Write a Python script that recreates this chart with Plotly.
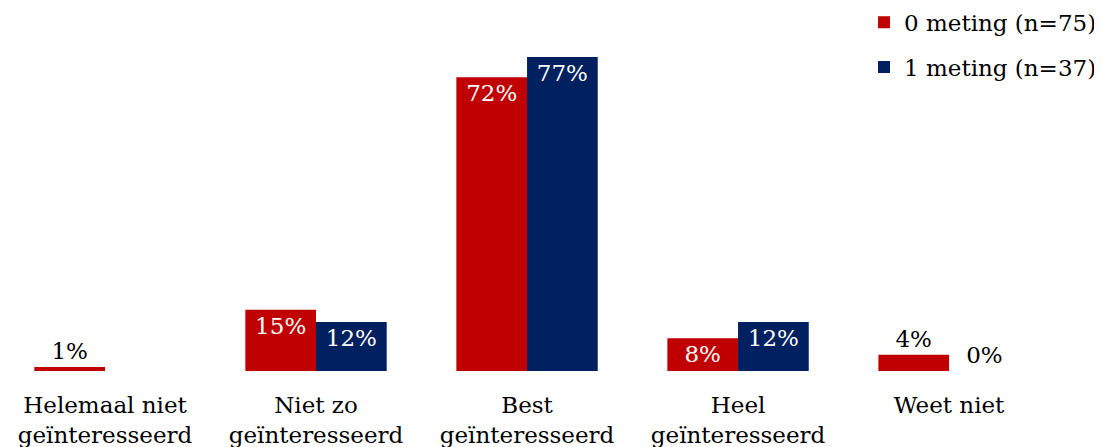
import plotly.graph_objects as go

categories = ["Helemaal niet<br>geïnteresseerd", "Niet zo<br>geïnteresseerd", "Best<br>geïnteresseerd",
              "Heel<br>geïnteresseerd", "Weet niet"]
meting0 = [1, 15, 72, 8, 4]
meting1 = [None, 12, 77, 12, 0]
name0 = "0 meting (n=75)"
name1 = "1 meting (n=37)"

RED = "#C00000"
NAVY = "#002060"
FONT = "DejaVu Serif"
FS = 23


def positions(vals):
    return ["inside" if (v is not None and v >= 7) else "outside" for v in vals]


def texts(vals):
    return ["" if v is None else f"{v}%" for v in vals]


fig = go.Figure()
for vals, name, color, grp in [(meting0, name0, RED, "a"), (meting1, name1, NAVY, "b")]:
    fig.add_trace(go.Bar(
        x=categories, y=[v if v is not None else 0 for v in vals], name=name,
        marker=dict(color=color, line=dict(width=0)),
        text=texts(vals), textposition=positions(vals), insidetextanchor="end",
        insidetextfont=dict(color="white", size=FS, family=FONT),
        outsidetextfont=dict(color="black", size=FS, family=FONT),
        cliponaxis=False, legendgroup=grp, hoverinfo="skip",
    ))

fig.update_layout(
    width=1094, height=439,
    margin=dict(l=0, r=47, t=0, b=76, autoexpand=False),
    paper_bgcolor="white", plot_bgcolor="white",
    barmode="group", bargap=0.33, bargroupgap=0,
    uniformtext=dict(minsize=FS, mode="show"),
    font=dict(family=FONT, size=FS, color="black"),
    legend=dict(x=0.8176, y=1.02, xanchor="left", yanchor="top",
                font=dict(size=FS, family=FONT), tracegroupgap=12,
                traceorder="grouped", itemwidth=30, bgcolor="rgba(0,0,0,0)"),
    xaxis=dict(showline=False, showgrid=False, ticks="", automargin=False,
               ticklabelstandoff=18,
               range=[-0.4597, 4.502], tickfont=dict(size=FS, family=FONT)),
    yaxis=dict(range=[0, 89], visible=False, showgrid=False, automargin=False),
    showlegend=True,
)

fig.write_html("out.html")
